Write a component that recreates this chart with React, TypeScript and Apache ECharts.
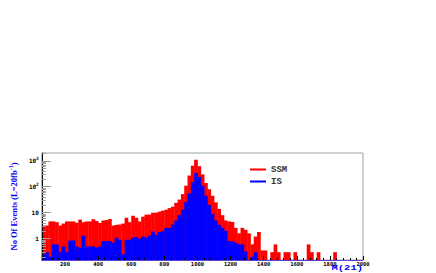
import React, { useEffect, useRef } from 'react';
import * as echarts from 'echarts';

// Histogram binning (GeV)
const BIN_LOW = 60;
const BIN_WIDTH = 20;

// SSM (red) events per bin
const ssmValues = [
  3.2, 3.2, 4.6, 4.6, 4.3, 3.2, 3.8, 4.6, 4.6, 4.6,
  4.1, 5.4, 4.3, 4.6, 4.6, 5.6, 4.8, 4.0, 5.0, 5.2,
  5.7, 3.2, 3.4, 3.5, 3.8, 6.4, 4.3, 7.6, 6.4, 4.6,
  7.0, 8.4, 8.4, 10, 10, 11, 12, 13, 15, 17,
  24, 32, 52, 110, 270, 650, 1100, 620, 300, 140,
  80, 45, 25, 14, 8, 5, 4.6, 4.4, 2.6, 1.6,
  2.6, 2.2, 1.6, 0.6, 1.2, 1.8, 0.35, 0.35, 0, 0.3,
  0.6, 0.3, 0, 0.3, 0.3, 0, 0.3, 0, 0, 0,
  0.6, 0.3, 0, 0.3, 0, 0, 0, 0, 0.3, 0,
  0, 0, 0, 0, 0, 0, 0,
];

// IS (blue) events per bin
const isValues = [
  0.25, 0.3, 0.2, 0.6, 0.6, 0.3, 0.5, 0.3, 0.85, 0.85,
  0.5, 0.45, 1.3, 0.5, 0.5, 0.5, 0.45, 0.5, 0.8, 0.8,
  0.8, 0.7, 1.1, 0.9, 0.25, 0.9, 0.9, 1.1, 1.15, 1.0,
  1.2, 1.1, 1.3, 1.9, 1.4, 1.8, 2.0, 2.6, 2.6, 3.5,
  5.0, 8, 13, 26, 55, 150, 340, 240, 110, 45,
  20, 9, 5, 3.4, 2.6, 2.0, 0.8, 0.8, 0.7, 0.6,
  0.6, 0.32, 0, 0.2, 0.3, 0, 0, 0, 0, 0,
  0, 0, 0, 0, 0, 0, 0, 0, 0, 0,
  0, 0, 0, 0, 0, 0, 0, 0, 0, 0,
  0, 0, 0, 0, 0, 0, 0,
];

const xLabelValues = [200, 400, 600, 800, 1000, 1200, 1400, 1600, 1800, 2000];
const xMinorTicks = [
  80, 120, 160, 240, 280, 320, 360, 440, 480, 520, 560, 640, 680, 720, 760,
  840, 880, 920, 960, 1040, 1080, 1120, 1160, 1240, 1280, 1320, 1360,
  1440, 1480, 1520, 1560, 1640, 1680, 1720, 1760, 1840, 1880, 1920, 1960,
];
const yMajorTicks = [1, 10, 100, 1000];
const yMinorTicks = [
  0.2, 0.3, 0.4, 0.5, 0.6, 0.7, 0.8, 0.9,
  2, 3, 4, 5, 6, 7, 8, 9,
  20, 30, 40, 50, 60, 70, 80, 90,
  200, 300, 400, 500, 600, 700, 800, 900, 2000,
];

const X_TITLE = 'M(21)';
const Y_TITLE = 'No Of Events (L=20fb{sup|-1})';

const X_MIN = 60;
const X_MAX = 2000;
const Y_MIN = 0.15;
const Y_MAX = 2000;

function histData(vals: number[]) {
  return vals.map((v, i) => [BIN_LOW + i * BIN_WIDTH, BIN_LOW + (i + 1) * BIN_WIDTH, v]);
}

function renderBar(params: any, api: any) {
  const v = api.value(2);
  if (!(v > 0)) return null;
  const p0 = api.coord([api.value(0), v]);
  const p1 = api.coord([api.value(1), v]);
  const cs = params.coordSys;
  const bottom = cs.y + cs.height;
  const top = Math.max(p0[1], cs.y);
  if (top >= bottom) return null;
  return {
    type: 'rect',
    shape: { x: p0[0], y: top, width: p1[0] - p0[0] + 0.4, height: bottom - top },
    style: { fill: api.visual('color') },
  };
}

function yLabel(v: number) {
  const e = Math.round(Math.log10(v));
  if (Math.abs(Math.pow(10, e) - v) > 1e-6) return '';
  if (e === 0) return '1';
  if (e === 1) return '10';
  return '10{sup|' + e + '}';
}

export default function App() {
  const ref = useRef<HTMLDivElement>(null);
  useEffect(() => {
    if (!ref.current) return;
    const chart = echarts.init(ref.current, undefined, { renderer: 'svg' });
    const tickFont = { fontFamily: 'DejaVu Sans Mono', fontWeight: 'bold' as const };
    chart.setOption({
      animation: false,
      grid: {
        left: 40, right: 73, top: 153, bottom: 13,
        show: true, borderColor: '#a0a0a0', borderWidth: 1, backgroundColor: 'transparent',
      },
      legend: {
        orient: 'vertical',
        left: 245,
        top: 160,
        itemWidth: 16,
        itemHeight: 2,
        itemGap: 3,
        data: [
          { name: 'SSM', icon: 'rect' },
          { name: 'IS', icon: 'rect' },
        ],
        textStyle: { fontSize: 9, fontWeight: 'bold', fontFamily: 'Liberation Mono', color: '#333' },
      },
      graphic: [
        {
          type: 'text',
          x: 363,
          y: 268.5,
          scaleX: 1.5,
          z: 20,
          style: {
            text: X_TITLE,
            fill: '#0000ff',
            fontSize: 7,
            align: 'right',
            verticalAlign: 'middle',
            fontWeight: 'bold',
            fontFamily: 'Liberation Mono',
          },
        },
      ],
      xAxis: [
        {
          type: 'value',
          min: X_MIN,
          max: X_MAX,
          splitLine: { show: false },
          axisLine: { show: true, lineStyle: { color: '#6040d0', width: 1 } },
          axisTick: { show: true, inside: true, length: 4, customValues: xLabelValues, lineStyle: { color: '#000' } },
          axisLabel: {
            customValues: xLabelValues,
            formatter: (v: number) => String(v),
            margin: 1,
            fontSize: 5.5,
            lineHeight: 5,
            color: '#000',
            ...tickFont,
          },
          z: 10,
        },
        {
          type: 'value',
          min: X_MIN,
          max: X_MAX,
          position: 'bottom',
          splitLine: { show: false },
          axisLine: { show: false },
          axisLabel: { show: false },
          axisTick: { show: true, inside: true, length: 2, customValues: xMinorTicks, lineStyle: { color: '#000' } },
          z: 10,
        },
      ],
      yAxis: [
        {
          type: 'log',
          logBase: 10,
          min: Y_MIN,
          max: Y_MAX,
          splitLine: { show: false },
          axisLine: { show: true, lineStyle: { color: '#000', width: 1 } },
          axisTick: { show: true, inside: true, length: 9, customValues: yMajorTicks, lineStyle: { color: '#999' } },
          axisLabel: {
            customValues: yMajorTicks,
            formatter: yLabel,
            margin: 3,
            fontSize: 6,
            color: '#000',
            ...tickFont,
            rich: {
              sup: { fontSize: 4.5, verticalAlign: 'top', padding: [0, 0, 4, 0], color: '#000', ...tickFont },
            },
          },
          name: Y_TITLE,
          nameLocation: 'middle',
          nameGap: 21,
          nameTextStyle: {
            color: '#0000ff',
            fontSize: 8.5,
            fontWeight: 'bold',
            fontFamily: 'Liberation Serif',
            rich: {
              sup: { fontSize: 6, color: '#0000ff', fontWeight: 'bold', fontFamily: 'Liberation Serif', padding: [0, 0, 5, 0] },
            },
          },
          z: 10,
        },
        {
          type: 'log',
          logBase: 10,
          min: Y_MIN,
          max: Y_MAX,
          position: 'left',
          splitLine: { show: false },
          axisLine: { show: false },
          axisLabel: { show: false },
          axisTick: { show: true, inside: true, length: 4, customValues: yMinorTicks, lineStyle: { color: '#999' } },
          z: 10,
        },
      ],
      series: [
        {
          name: 'SSM',
          type: 'custom',
          xAxisIndex: 0,
          yAxisIndex: 0,
          renderItem: renderBar,
          itemStyle: { color: '#ff0000' },
          encode: { x: [0, 1], y: 2 },
          data: histData(ssmValues),
          clip: true,
        },
        {
          name: 'IS',
          type: 'custom',
          xAxisIndex: 0,
          yAxisIndex: 0,
          renderItem: renderBar,
          itemStyle: { color: '#0000ff' },
          encode: { x: [0, 1], y: 2 },
          data: histData(isValues),
          clip: true,
        },
      ],
    });
    return () => chart.dispose();
  }, []);
  return (
    <div
      ref={ref}
      style={{ position: 'absolute', left: 0, top: 0, width: 436, height: 273, background: '#fff' }}
    />
  );
}
